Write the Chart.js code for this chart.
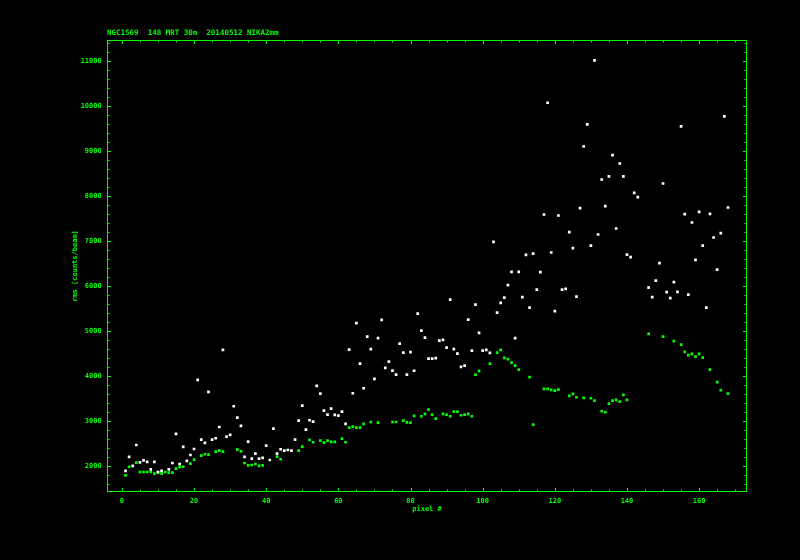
<!DOCTYPE html>
<html>
<head>
<meta charset="utf-8">
<style>
html, body { margin: 0; padding: 0; background: #000; }
canvas { display: block; }
</style>
<script src="https://cdn.jsdelivr.net/npm/chart.js@4/dist/chart.umd.min.js"></script>
</head>
<body>
<canvas id="c" width="800" height="560"></canvas>
<script>
// ---------------- data ----------------
const titleText = 'NGC1569  148 MRT 30m  20140512 NIKA2mm';
const xTitle = 'pixel #';
const yTitle = 'rms [counts/beam]';

const pixels = Array.from({ length: 168 }, (_, i) => i + 1);

const whiteRms = [
  1896, 2207, 2007, 2473, 2088, 2133, 2096, 1933, 2096, 1873,
  1896, null, 1933, 2073, 2718, 2051, 2429, 2118, 2251, 2384,
  3918, 2591, 2518, 3651, 2591, 2622, 2873, 4584, 2658, 2696,
  3333, 3080, 2896, 2207, 2547, 2169, 2280, 2169, 2188, 2458,
  2140, 2836, 2280, 2378, 2347, 2362, 2347, 2591, 3013, 3347,
  2813, 3022, 2991, 3784, 3613, 3236, 3147, 3280, 3140, 3124,
  3213, 2940, 4591, 3622, 5178, 4280, 3733, 4880, 4600, 3940,
  4844, 5251, 4184, 4324, 4124, 4036, 4724, 4524, 4036, 4533,
  4121, 5391, 5013, 4858, 4391, 4391, 4400, 4791, 4807, 4636,
  5702, 4600, 4502, 4207, 4236, 5258, 4569, 5591, 4962, 4569,
  4584, 4518, 6984, 5413, 5629, 5747, 6022, 6318, 4844, 6318,
  5756, 6696, 5524, 6724, 5924, 6311, 7591, 10073, 6747, 5444,
  7569, 5924, 5940, 7200, 6844, 5769, 7733, 9102, 9591, 6902,
  11013, 7147, 8369, 7778, 8436, 8911, 7280, 8724, 8436, 6702,
  6644, 8073, 7978, null, null, 5966, 5756, 6124, 6511, 8280,
  5867, 5733, 6089, 5873, 9547, 7600, 5813, 7413, 6584, 7651,
  6902, 5524, 7607, 7080, 6369, 7178, 9769, 7747
];

const greenRms = [
  1800, 1990, null, 2080, 1873, 1873, 1873, 1873, 1836, 1858,
  1836, 1873, 1858, 1858, 1947, 1985, 1990, null, 2058, 2147,
  null, 2236, 2267, 2258, null, 2325, 2347, 2325, null, null,
  null, 2369, 2333, 2073, 2022, 2029, 2051, 2007, 2020, null,
  null, null, 2213, 2156, null, null, null, null, 2347, 2436,
  null, 2584, 2533, null, 2569, 2524, 2569, 2540, 2540, null,
  2613, 2533, 2858, 2880, 2858, 2858, 2940, null, 2984, null,
  2969, null, null, null, 2984, 2984, null, 3013, 2975, 2969,
  3118, null, 3111, 3162, 3258, 3147, 3058, null, 3162, 3147,
  3111, 3213, 3213, 3133, 3147, 3162, 3111, 4036, 4118, null,
  null, 4280, null, 4524, 4584, 4407, 4378, 4302, 4236, 4147,
  null, null, 3978, 2924, null, null, 3718, 3718, 3696, 3680,
  3702, null, null, 3562, 3607, 3533, null, 3518, null, 3511,
  3458, null, 3222, 3200, 3391, 3458, 3473, 3436, 3584, 3473,
  null, null, null, null, null, 4940, null, null, null, 4880,
  null, null, 4778, null, 4702, 4540, 4467, 4496, 4436, 4496,
  4413, null, 4147, null, 3867, 3689, null, 3613
];

const xTickValues = [0, 20, 40, 60, 80, 100, 120, 140, 160];
const yTickValues = [2000, 3000, 4000, 5000, 6000, 7000, 8000, 9000, 10000, 11000];

// ---------------- style ----------------
const GREEN = '#00ff00';
const WHITE = '#ffffff';
const FONT = 'DejaVu Sans Mono';
const X_MINOR_STEP = 5, X_MAJOR_STEP = 20;
const Y_MINOR_STEP = 200, Y_MAJOR_STEP = 1000;

const toPoints = vals => pixels
  .map((p, i) => ({ x: p, y: vals[i] }))
  .filter(d => d.y !== null);

const framePlugin = {
  id: 'frameTicks',
  afterDatasetsDraw(chart) {
    const { ctx, chartArea: a, scales: { x, y } } = chart;
    ctx.save();
    ctx.strokeStyle = GREEN;
    ctx.lineWidth = 1;
    ctx.strokeRect(a.left, a.top, a.right - a.left, a.bottom - a.top);
    ctx.beginPath();
    for (let v = Math.ceil(x.min / X_MINOR_STEP) * X_MINOR_STEP; v <= x.max; v += X_MINOR_STEP) {
      const px = Math.round(x.getPixelForValue(v)) + 0.5;
      const len = v % X_MAJOR_STEP === 0 ? 3.5 : 2;
      ctx.moveTo(px, a.bottom); ctx.lineTo(px, a.bottom - len);
      ctx.moveTo(px, a.top); ctx.lineTo(px, a.top + len);
    }
    for (let v = Math.ceil(y.min / Y_MINOR_STEP) * Y_MINOR_STEP; v <= y.max; v += Y_MINOR_STEP) {
      const py = Math.round(y.getPixelForValue(v)) + 0.5;
      const len = v % Y_MAJOR_STEP === 0 ? 3.5 : 2;
      ctx.moveTo(a.left, py); ctx.lineTo(a.left + len, py);
      ctx.moveTo(a.right, py); ctx.lineTo(a.right - len, py);
    }
    ctx.stroke();
    ctx.restore();
  }
};

const titleLeftPlugin = {
  id: 'titleLeft',
  afterLayout(chart) {
    if (chart.titleBlock) {
      chart.titleBlock.left = chart.chartArea.left - 0.5;
      chart.titleBlock.right = chart.chartArea.right;
    }
  }
};

new Chart(document.getElementById('c'), {
  type: 'scatter',
  data: {
    datasets: [
      {
        label: 'rms (white)',
        data: toPoints(whiteRms),
        backgroundColor: WHITE,
        borderWidth: 0,
        pointStyle: 'rect',
        pointRadius: 1.9,
        pointHoverRadius: 1.9
      },
      {
        label: 'rms (green)',
        data: toPoints(greenRms),
        backgroundColor: GREEN,
        borderWidth: 0,
        pointStyle: 'rect',
        pointRadius: 1.9,
        pointHoverRadius: 1.9
      }
    ]
  },
  options: {
    responsive: false,
    animation: false,
    devicePixelRatio: 1,
    events: [],
    layout: { padding: { left: 0, right: 53.5, top: 0, bottom: 0 } },
    plugins: {
      legend: { display: false },
      tooltip: { enabled: false },
      title: {
        display: true,
        text: titleText,
        align: 'start',
        color: GREEN,
        font: { family: FONT, size: 7.5, weight: 'bold', lineHeight: 1 },
        padding: { top: 29, bottom: 4 }
      }
    },
    scales: {
      x: {
        type: 'linear',
        min: -3.99,
        max: 173.13,
        grid: { display: false, drawTicks: false },
        border: { display: false },
        afterBuildTicks: s => { s.ticks = xTickValues.map(v => ({ value: v })); },
        afterFit: s => { s.height = 68.5; },
        ticks: {
          color: GREEN,
          padding: 5.3,
          maxRotation: 0,
          autoSkip: false,
          font: { family: FONT, size: 7, weight: 'bold' },
          callback: v => String(v)
        },
        title: {
          display: true,
          text: xTitle,
          color: GREEN,
          font: { family: FONT, size: 7, weight: 'bold' },
          padding: { top: 0, bottom: 46.3 }
        }
      },
      y: {
        type: 'linear',
        min: 1440,
        max: 11455,
        grid: { display: false, drawTicks: false },
        border: { display: false },
        afterBuildTicks: s => { s.ticks = yTickValues.map(v => ({ value: v })); },
        afterFit: s => { s.width = 107.5; },
        ticks: {
          color: GREEN,
          padding: 5.8,
          autoSkip: false,
          font: { family: FONT, size: 7, weight: 'bold' },
          callback: v => String(v)
        },
        title: {
          display: true,
          text: yTitle,
          color: GREEN,
          font: { family: FONT, size: 7, weight: 'bold' },
          padding: { top: 70.8, bottom: 0 }
        }
      }
    }
  },
  plugins: [framePlugin, titleLeftPlugin]
});
</script>
</body>
</html>
